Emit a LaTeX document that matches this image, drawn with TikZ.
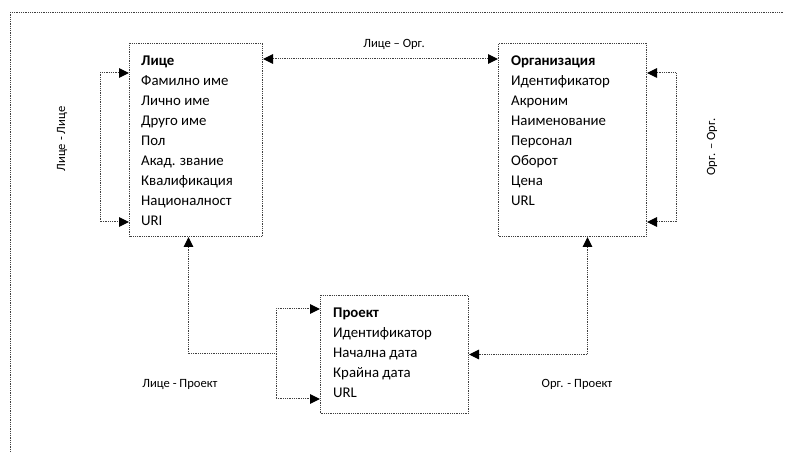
\documentclass[tikz,border=0pt]{standalone}
\usepackage{fontspec}
\setmainfont{Carlito}
\usetikzlibrary{arrows.meta}
\begin{document}
\begin{tikzpicture}[x=1pt,y=1pt,
  dots/.style={draw=black!75, line width=1pt, dash pattern=on 1pt off 0.8pt},
  entity/.style={dots, rectangle, inner sep=0pt, anchor=north west},
  fields/.style={anchor=base west, inner sep=0pt, font=\fontsize{14.8}{20}\selectfont},
  tag/.style={inner sep=0pt, font=\fontsize{12.6}{14}\selectfont},
  tip/.tip={Triangle[length=10pt,width=9.5pt,black]},
]
\useasboundingbox (0,0) rectangle (786,452);

% page frame (top and left edges only)
\draw[dots] (10,0) -- (10,439) -- (783,439);

% entity boxes
\node[entity, minimum width=133pt, minimum height=193pt] (lice) at (129,409) {};
\node[entity, minimum width=148pt, minimum height=193pt] (org)  at (498,409) {};
\node[entity, minimum width=148pt, minimum height=118pt] (proj) at (320,157) {};

% attribute lists
\node[fields] (licetxt) at (141,386.3) {\begin{tabular}[t]{@{}l@{}}
\textbf{Лице}\\ Фамилно име\\ Лично име\\ Друго име\\ Пол\\ Акад. звание\\ Квалификация\\ Националност\\ URI
\end{tabular}};
\node[fields] (orgtxt) at (511,386.6) {\begin{tabular}[t]{@{}l@{}}
\textbf{Организация}\\ Идентификатор\\ Акроним\\ Наименование\\ Персонал\\ Оборот\\ Цена\\ URL
\end{tabular}};
\node[fields] (projtxt) at (333,134.7) {\begin{tabular}[t]{@{}l@{}}
\textbf{Проект}\\ Идентификатор\\ Начална дата\\ Крайна дата\\ URL
\end{tabular}};

% relations
\draw[dots, tip-tip] ([yshift=-16pt]lice.north east) -- ([yshift=-16pt]org.north west);
\draw[dots, tip-tip] ([yshift=-30pt]lice.north west) -- ++(-29,0) |- ([yshift=15pt]lice.south west);
\draw[dots, tip-tip] ([yshift=-30pt]org.north east) -- ++(29.5,0) |- ([yshift=15pt]org.south east);

\coordinate (lpj) at (276,98);
\draw[dots, tip-] ([xshift=-7.5pt]lice.south) |- (lpj);
\draw[dots, -tip] (lpj) |- ([yshift=-14pt]proj.north west);
\draw[dots, -tip] (lpj) |- ([yshift=15pt]proj.south west);
\draw[dots, tip-tip] ([xshift=15pt]org.south) |- (proj.east);

% relation names
\node[tag] (lo) at (394,408) {Лице – Орг.};
\node[tag, rotate=90] (ll) at (62,313) {Лице - Лице};
\node[tag, rotate=90] (oo) at (712,305) {Орг. – Орг.};
\node[tag] (lp) at (180,68) {Лице - Проект};
\node[tag] (op) at (577,68) {Орг. - Проект};
\end{tikzpicture}
\end{document}
